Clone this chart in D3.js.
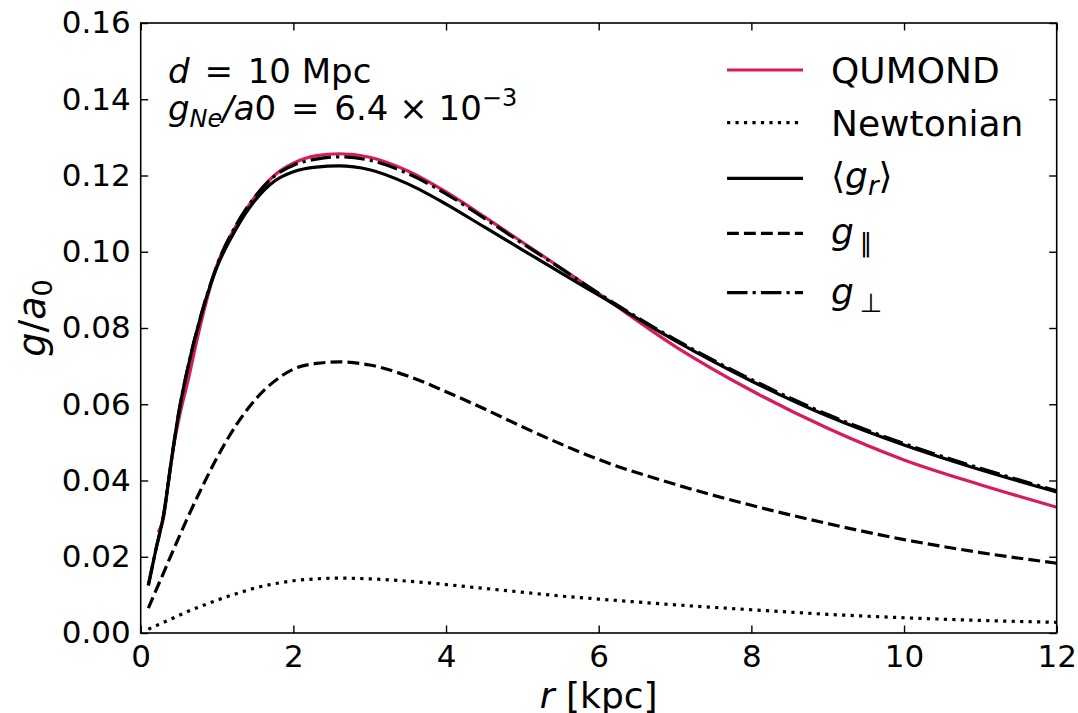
<!DOCTYPE html>
<html>
<head>
<meta charset="utf-8">
<script src="https://cdn.jsdelivr.net/npm/d3@7"></script>
<style>
  body { margin: 0; background: #fff; }
  text { font-family: "DejaVu Sans", sans-serif; fill: #000; }
</style>
</head>
<body>
<svg id="chart" width="1078" height="713"></svg>
<script>
// radii [kpc]
var rVals = [0.1, 0.2, 0.3, 0.4, 0.5, 0.6, 0.8, 1.0, 1.25, 1.5, 1.75, 2.0, 2.3, 2.6, 3.0, 3.5, 4.0, 4.5, 5.0, 5.5, 6.0, 7.0, 8.0, 9.0, 10.0, 11.0, 12.0];
// <g_r>
var gMean = [0.0125, 0.022, 0.031, 0.045, 0.058, 0.068, 0.084, 0.096, 0.106, 0.1135, 0.1185, 0.121, 0.1222, 0.1225, 0.1215, 0.1178, 0.1125, 0.1065, 0.1005, 0.0945, 0.0886, 0.0767, 0.0661, 0.0569, 0.0493, 0.0428, 0.0370];
// g_perp
var gPerp = [0.0125, 0.022, 0.031, 0.045, 0.058, 0.068, 0.084, 0.0965, 0.107, 0.1145, 0.1198, 0.1227, 0.1243, 0.1249, 0.1240, 0.1205, 0.1152, 0.1088, 0.1022, 0.0957, 0.0891, 0.0770, 0.0665, 0.0573, 0.0497, 0.0432, 0.0373];
// g_par
var gPar = [0.0065, 0.0112, 0.0158, 0.0205, 0.0251, 0.0296, 0.0381, 0.0460, 0.0545, 0.0612, 0.0660, 0.0692, 0.0707, 0.0711, 0.0703, 0.0674, 0.0633, 0.0588, 0.0541, 0.0496, 0.0455, 0.0390, 0.0335, 0.0287, 0.0245, 0.0211, 0.0183];
// newtonian
var gNewton = [0.001, 0.0019, 0.0028, 0.0037, 0.0046, 0.0055, 0.0071, 0.0086, 0.0103, 0.0118, 0.0129, 0.0137, 0.0142, 0.0144, 0.0142, 0.0136, 0.0127, 0.0117, 0.0107, 0.0097, 0.0089, 0.0074, 0.0061, 0.0049, 0.0040, 0.0033, 0.0028];
// QUMOND has its own radii
var rQumond = [0.23, 0.30, 0.36, 0.43, 0.515, 0.62, 0.75, 1.0, 1.25, 1.5, 1.75, 2.0, 2.3, 2.6, 3.0, 3.5, 4.0, 4.5, 5.0, 5.5, 6.0, 7.0, 8.0, 9.0, 10.0, 11.0, 12.0];
var gQumond = [0.0264, 0.0304, 0.039, 0.0488, 0.0575, 0.0662, 0.078, 0.0965, 0.1068, 0.1145, 0.1200, 0.1232, 0.1252, 0.1257, 0.1248, 0.1212, 0.1157, 0.1092, 0.1025, 0.0958, 0.0890, 0.0752, 0.0636, 0.0537, 0.0454, 0.0389, 0.0330];

var xTicks = [0, 2, 4, 6, 8, 10, 12];
var yTicks = [0, 0.02, 0.04, 0.06, 0.08, 0.10, 0.12, 0.14, 0.16];

var W = 1078, H = 713;
var mL = 140.7, mR = 1056.7, mT = 23, mB = 633;
var red = "#d81b60";
var lw = 3.2;

var svg = d3.select("#chart");
svg.append("rect").attr("width", W).attr("height", H).attr("fill", "#fff");

var x = d3.scaleLinear().domain([0, 12]).range([mL, mR]);
var y = d3.scaleLinear().domain([0, 0.16]).range([mB, mT]);

var line = d3.line()
  .x(function(d) { return x(d[0]); })
  .y(function(d) { return y(d[1]); })
  .curve(d3.curveMonotoneX);

var series = [
  {r: rVals, g: gNewton, color: "#000", dash: [1 * lw, 1.65 * lw]},
  {r: rVals, g: gPar, color: "#000", dash: [3.7 * lw, 1.6 * lw]},
  {r: rQumond, g: gQumond, color: red, dash: null},
  {r: rVals, g: gPerp, color: "#000", dash: [6.4 * lw, 1.6 * lw, 1 * lw, 1.6 * lw]},
  {r: rVals, g: gMean, color: "#000", dash: null}
];

var plot = svg.append("g");
series.forEach(function(s) {
  var pts = s.r.map(function(r, i) { return [r, s.g[i]]; });
  plot.append("path")
    .attr("d", line(pts))
    .attr("fill", "none")
    .attr("stroke", s.color)
    .attr("stroke-width", lw)
    .attr("stroke-dasharray", s.dash ? s.dash.join(",") : null);
});

// axes, ticks inward on all four sides
var tickLen = 7.5;
var fmt = d3.format(".2f");
svg.append("g").attr("transform", "translate(0," + mB + ")")
  .call(d3.axisBottom(x).tickValues(xTicks).tickSizeInner(-tickLen).tickSizeOuter(0).tickPadding(12).tickFormat(d3.format("d")));
svg.append("g").attr("transform", "translate(0," + mT + ")")
  .call(d3.axisTop(x).tickValues(xTicks).tickSizeInner(-tickLen).tickSizeOuter(0).tickFormat(""));
svg.append("g").attr("transform", "translate(" + mL + ",0)")
  .call(d3.axisLeft(y).tickValues(yTicks).tickSizeInner(-tickLen).tickSizeOuter(0).tickPadding(10).tickFormat(fmt));
svg.append("g").attr("transform", "translate(" + mR + ",0)")
  .call(d3.axisRight(y).tickValues(yTicks).tickSizeInner(-tickLen).tickSizeOuter(0).tickFormat(""));

svg.selectAll(".domain").remove();
svg.selectAll(".tick line").attr("stroke", "#000").attr("stroke-width", 1.4);
svg.selectAll(".tick text").style("font-size", "31px").style("font-family", "DejaVu Sans");

svg.append("rect")
  .attr("x", mL).attr("y", mT)
  .attr("width", mR - mL).attr("height", mB - mT)
  .attr("fill", "none").attr("stroke", "#000").attr("stroke-width", 1.6);

// axis labels
var yl = svg.append("text")
  .attr("transform", "translate(45,318) rotate(-90)")
  .attr("text-anchor", "middle")
  .style("font-size", "38px");
yl.append("tspan").style("font-style", "italic").text("g");
yl.append("tspan").text("/");
yl.append("tspan").style("font-style", "italic").text("a");
yl.append("tspan").attr("dy", 7).style("font-size", "27px").text("0");

var xl = svg.append("text")
  .attr("x", (mL + mR) / 2).attr("y", 708)
  .attr("text-anchor", "middle")
  .style("font-size", "36px");
xl.append("tspan").style("font-style", "italic").text("r");
xl.append("tspan").text(" [kpc]");

// annotation
var a1 = svg.append("text").attr("x", 168).attr("y", 83).style("font-size", "34px");
a1.append("tspan").style("font-style", "italic").text("d");
a1.append("tspan").attr("dx", 4).text(" = ");
a1.append("tspan").attr("dx", 4).text("10 Mpc");

var a2 = svg.append("text").attr("x", 168).attr("y", 120).style("font-size", "34px");
a2.append("tspan").style("font-style", "italic").text("g");
a2.append("tspan").attr("dy", 7).style("font-size", "24px").style("font-style", "italic").text("Ne");
a2.append("tspan").attr("dy", -7).style("font-style", "italic").text("/a");
a2.append("tspan").text("0");
a2.append("tspan").attr("dx", 4).text(" = ");
a2.append("tspan").attr("dx", 4).text("6.4 \u00d7 10");
a2.append("tspan").attr("dy", -14).style("font-size", "24px").text("\u22123");

// legend
var legendRows = [70, 122.7, 178.3, 233.3, 292.7];
var legendSeries = [series[2], series[0], series[4], series[1], series[3]];
var lg = svg.append("g");
legendSeries.forEach(function(s, i) {
  lg.append("line")
    .attr("x1", 727).attr("x2", 803)
    .attr("y1", legendRows[i]).attr("y2", legendRows[i])
    .attr("stroke", s.color).attr("stroke-width", lw)
    .attr("stroke-dasharray", s.dash ? s.dash.join(",") : null);
});
var fs = "36px";
lg.append("text").attr("x", 831).attr("y", legendRows[0] + 13).style("font-size", fs).text("QUMOND");
lg.append("text").attr("x", 831).attr("y", legendRows[1] + 13).style("font-size", fs).text("Newtonian");
var t3 = lg.append("text").attr("x", 831).attr("y", legendRows[2] + 10).style("font-size", fs);
t3.append("tspan").text("\u27e8");
t3.append("tspan").style("font-style", "italic").text("g");
t3.append("tspan").attr("dy", 7).style("font-size", "26px").style("font-style", "italic").text("r");
t3.append("tspan").attr("dy", -7).text("\u27e9");
var t4 = lg.append("text").attr("x", 831).attr("y", legendRows[3] + 11).style("font-size", fs);
t4.append("tspan").style("font-style", "italic").text("g");
t4.append("tspan").attr("dx", 6).attr("dy", 8).style("font-size", "26px").text("\u2225");
var t5 = lg.append("text").attr("x", 831).attr("y", legendRows[4] + 11).style("font-size", fs);
t5.append("tspan").style("font-style", "italic").text("g");
t5.append("tspan").attr("dx", 6).attr("dy", 8).style("font-size", "26px").text("\u22a5");
</script>
</body>
</html>
